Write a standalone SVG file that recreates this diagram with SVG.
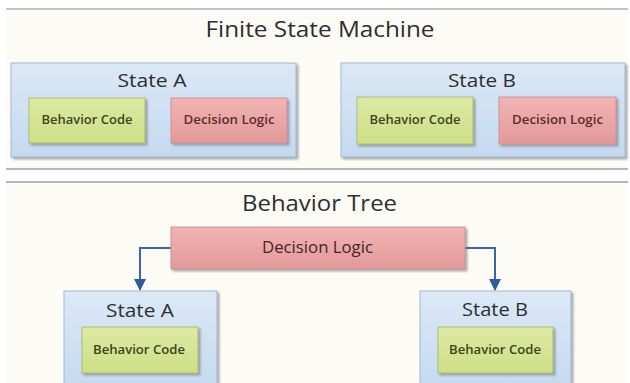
<svg xmlns="http://www.w3.org/2000/svg" width="630" height="383" viewBox="0 0 630 383">
  <style>
    .panel { fill: #fcfbf6; }
    .rule { stroke: #b4b6c0; stroke-width: 2; fill: none; }
    .state { fill: url(#gBlue); stroke: #a3b8d0; stroke-width: 1; filter: url(#shadow); }
    .code { fill: url(#gGreen); stroke: #adbc78; stroke-width: 1; filter: url(#shadow); }
    .logic { fill: url(#gRed); stroke: #cc9494; stroke-width: 1; filter: url(#shadow); }
    .title { font-family: "Open Sans", "Liberation Sans", sans-serif; font-size: 22px; fill: #2e2e2e; text-anchor: middle; }
    .slabel { font-family: "Open Sans", "Liberation Sans", sans-serif; font-size: 18px; fill: #2e2e2e; text-anchor: middle; }
    .ctext { font-family: "Open Sans", "Liberation Sans", sans-serif; font-size: 12px; font-weight: 600; fill: #3e4418; text-anchor: middle; }
    .ltext { font-family: "Open Sans", "Liberation Sans", sans-serif; font-size: 12px; font-weight: 600; fill: #5e2c2c; text-anchor: middle; }
    .btext { font-family: "Open Sans", "Liberation Sans", sans-serif; font-size: 15.5px; fill: #42262a; text-anchor: middle; }
    .wire { stroke: #3a66a6; stroke-width: 2; fill: none; marker-end: url(#head); }
  </style>
  <defs>
    <linearGradient id="gBlue" x1="0" y1="0" x2="0" y2="1">
      <stop offset="0" stop-color="#dce8f6"/>
      <stop offset="1" stop-color="#c4d9ef"/>
    </linearGradient>
    <linearGradient id="gGreen" x1="0" y1="0" x2="0" y2="1">
      <stop offset="0" stop-color="#dde9a4"/>
      <stop offset="1" stop-color="#cddf86"/>
    </linearGradient>
    <linearGradient id="gRed" x1="0" y1="0" x2="0" y2="1">
      <stop offset="0" stop-color="#f1b4b4"/>
      <stop offset="1" stop-color="#e49898"/>
    </linearGradient>
    <filter id="shadow" x="-10%" y="-10%" width="125%" height="130%">
      <feDropShadow dx="2" dy="2" stdDeviation="1.2" flood-color="#6b6b6b" flood-opacity="0.55"/>
    </filter>
    <marker id="head" viewBox="0 0 12 12" refX="11" refY="6" markerWidth="12" markerHeight="12" markerUnits="userSpaceOnUse" orient="auto">
      <path d="M0,0 L12,6 L0,12 Z" fill="#2e5c9e"/>
    </marker>
  </defs>

  <rect width="630" height="383" fill="#ffffff"/>

  <!-- upper panel: finite state machine -->
  <rect class="panel" x="6" y="9" width="622" height="160"/>
  <line class="rule" x1="6" y1="9" x2="628" y2="9" stroke-opacity="0.8"/>
  <line class="rule" x1="6" y1="169" x2="628" y2="169"/>
  <text class="title" x="320" y="37" textLength="229" lengthAdjust="spacingAndGlyphs">Finite State Machine</text>

  <g id="fsm-state-a">
    <rect class="state" x="11" y="63" width="285" height="94"/>
    <text class="slabel" x="152" y="87" textLength="69" lengthAdjust="spacingAndGlyphs">State A</text>
    <g id="fsm-a-behavior">
      <rect class="code" x="29" y="98" width="116" height="45"/>
      <text class="ctext" x="87" y="124" textLength="91" lengthAdjust="spacingAndGlyphs">Behavior Code</text>
    </g>
    <g id="fsm-a-decision">
      <rect class="logic" x="171" y="98" width="116" height="45"/>
      <text class="ltext" x="229" y="124" textLength="91" lengthAdjust="spacingAndGlyphs">Decision Logic</text>
    </g>
  </g>

  <g id="fsm-state-b">
    <rect class="state" x="341" y="63" width="284" height="94"/>
    <text class="slabel" x="482" y="87" textLength="68" lengthAdjust="spacingAndGlyphs">State B</text>
    <g id="fsm-b-behavior">
      <rect class="code" x="357" y="97" width="116" height="47"/>
      <text class="ctext" x="415" y="124" textLength="91" lengthAdjust="spacingAndGlyphs">Behavior Code</text>
    </g>
    <g id="fsm-b-decision">
      <rect class="logic" x="499" y="97" width="117" height="47"/>
      <text class="ltext" x="557.5" y="124" textLength="91" lengthAdjust="spacingAndGlyphs">Decision Logic</text>
    </g>
  </g>

  <!-- lower panel: behavior tree -->
  <rect class="panel" x="6" y="182" width="622" height="201"/>
  <line class="rule" x1="6" y1="182" x2="628" y2="182"/>
  <text class="title" x="319.5" y="211" textLength="155" lengthAdjust="spacingAndGlyphs">Behavior Tree</text>

  <g id="connectors">
    <path class="wire" d="M171,248 H140 V290"/>
    <path class="wire" d="M465,248 H495 V290"/>
  </g>

  <g id="bt-decision">
    <rect class="logic" x="171" y="227" width="294" height="42"/>
    <text class="btext" x="317.5" y="253" textLength="111" lengthAdjust="spacingAndGlyphs">Decision Logic</text>
  </g>

  <g id="bt-state-a">
    <rect class="state" x="64" y="291" width="153" height="100"/>
    <text class="slabel" x="140" y="317" textLength="68" lengthAdjust="spacingAndGlyphs">State A</text>
    <g id="bt-a-behavior">
      <rect class="code" x="82" y="327" width="116" height="46"/>
      <text class="ctext" x="139" y="354" textLength="92" lengthAdjust="spacingAndGlyphs">Behavior Code</text>
    </g>
  </g>

  <g id="bt-state-b">
    <rect class="state" x="420" y="291" width="151" height="100"/>
    <text class="slabel" x="495" y="316" textLength="66" lengthAdjust="spacingAndGlyphs">State B</text>
    <g id="bt-b-behavior">
      <rect class="code" x="438" y="327" width="115" height="46"/>
      <text class="ctext" x="495" y="354" textLength="92" lengthAdjust="spacingAndGlyphs">Behavior Code</text>
    </g>
  </g>
</svg>
